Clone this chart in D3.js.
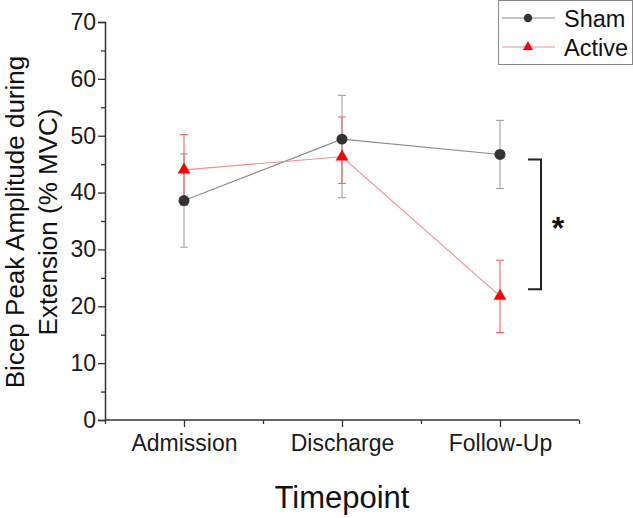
<!DOCTYPE html>
<html>
<head>
<meta charset="utf-8">
<script src="https://cdn.jsdelivr.net/npm/d3@7"></script>
<style>
html,body{margin:0;padding:0;background:#fff;}
svg{display:block;}
</style>
</head>
<body>
<svg id="chart" width="633" height="518"></svg>
<script>
const categories = ["Admission", "Discharge", "Follow-Up"];
const shamValues = [38.6, 49.4, 46.7];
const shamErrUp = [8.2, 7.7, 6.0];
const shamErrDown = [8.2, 10.3, 6.0];
const activeValues = [44.0, 46.3, 21.8];
const activeErrUp = [6.2, 7.0, 6.3];
const activeErrDown = [6.2, 4.7, 6.4];
const yTicks = [0, 10, 20, 30, 40, 50, 60, 70];
const yMinorTicks = [5, 15, 25, 35, 45, 55, 65];
const bracketRange = [45.8, 23.0];

const FONT = "'Liberation Sans', Arial, sans-serif";
const svg = d3.select("#chart").attr("font-family", FONT);
const mLeft = 105, mRight = 579, mTop = 22, mBottom = 420;

const x = d3.scaleLinear().domain([0.5, 3.5]).range([mLeft, mRight]);
const y = d3.scaleLinear().domain([0, 70]).range([mBottom, mTop]);
const axisColor = "#333";

// Y axis
const yAxis = d3.axisLeft(y).tickValues(yTicks).tickSize(7).tickPadding(2).tickFormat(d3.format("d"));
const gy = svg.append("g").attr("transform", `translate(${mLeft},0)`).call(yAxis)
  .attr("font-family", FONT).attr("font-size", 23);
gy.select(".domain").attr("stroke", axisColor).attr("stroke-width", 1.5);
gy.selectAll(".tick line").attr("stroke", axisColor).attr("stroke-width", 1.3);
gy.selectAll(".tick text").attr("fill", "#1a1a1a");
const gyMinor = svg.append("g").attr("transform", `translate(${mLeft},0)`)
  .call(d3.axisLeft(y).tickValues(yMinorTicks).tickSize(4).tickFormat(""));
gyMinor.select(".domain").remove();
gyMinor.selectAll(".tick line").attr("stroke", axisColor).attr("stroke-width", 1.3);

// X axis
const xAxis = d3.axisBottom(x).tickValues([1, 2, 3]).tickSize(7).tickPadding(8)
  .tickFormat((d) => categories[d - 1]);
const gx = svg.append("g").attr("transform", `translate(0,${mBottom})`).call(xAxis)
  .attr("font-family", FONT).attr("font-size", 23);
gx.select(".domain").attr("stroke", axisColor).attr("stroke-width", 1.5).attr("d", `M${mLeft},0H${mRight}`);
gx.selectAll(".tick line").attr("stroke", axisColor).attr("stroke-width", 1.3);
gx.selectAll(".tick text").attr("fill", "#1a1a1a");
const gxMinor = svg.append("g").attr("transform", `translate(0,${mBottom})`)
  .call(d3.axisBottom(x).tickValues([0.5, 1.5, 2.5, 3.5]).tickSize(4).tickFormat(""));
gxMinor.select(".domain").remove();
gxMinor.selectAll(".tick line").attr("stroke", axisColor).attr("stroke-width", 1.3);

// Axis titles
svg.append("text").attr("x", x(2)).attr("y", 508).attr("text-anchor", "middle")
  .attr("font-size", 31).attr("fill", "#111").text("Timepoint");
const yl = svg.append("text").attr("transform", `translate(0,222) rotate(-90)`)
  .attr("text-anchor", "middle").attr("font-size", 26).attr("fill", "#111");
yl.append("tspan").attr("x", 0).attr("y", 24).text("Bicep Peak Amplitude during");
yl.append("tspan").attr("x", 0).attr("y", 57).text("Extension (% MVC)");

const idx = categories.map((c, i) => i + 1);
const series = [
  {name: "Sham", vals: shamValues, up: shamErrUp, down: shamErrDown, line: "#8a8a8a", err: "#a0a0a0", mark: "#333", shape: d3.symbolCircle, size: 95, lsize: 55},
  {name: "Active", vals: activeValues, up: activeErrUp, down: activeErrDown, line: "#f09090", err: "#f06868", mark: "#ff0000", shape: d3.symbolTriangle, size: 70, lsize: 45}
];

const lineGen = d3.line().x((d) => x(d[0])).y((d) => y(d[1]));

// error bars
series.forEach((s) => {
  const g = svg.append("g");
  idx.forEach((xi, i) => {
    const v = s.vals[i], hi = v + s.up[i], lo = v - s.down[i];
    g.append("line").attr("x1", x(xi)).attr("x2", x(xi)).attr("y1", y(hi)).attr("y2", y(lo))
      .attr("stroke", s.err).attr("stroke-width", 1.1);
    [hi, lo].forEach((c) => g.append("line").attr("x1", x(xi) - 4).attr("x2", x(xi) + 4)
      .attr("y1", y(c)).attr("y2", y(c)).attr("stroke", s.err).attr("stroke-width", 1.1));
  });
});
// lines
series.forEach((s) => {
  svg.append("path").datum(idx.map((xi, i) => [xi, s.vals[i]])).attr("d", lineGen)
    .attr("fill", "none").attr("stroke", s.line).attr("stroke-width", 1.1);
});
// markers
series.forEach((s) => {
  svg.append("g").selectAll("path").data(idx.map((xi, i) => [xi, s.vals[i]])).join("path")
    .attr("d", d3.symbol().type(s.shape).size(s.size))
    .attr("transform", (d) => `translate(${x(d[0])},${y(d[1])})`)
    .attr("fill", s.mark);
});

// significance bracket
const bx = 541, bxs = 528;
svg.append("path")
  .attr("d", `M${bxs},${y(bracketRange[0])}H${bx}V${y(bracketRange[1])}H${bxs}`)
  .attr("fill", "none").attr("stroke", "#222").attr("stroke-width", 2);
svg.append("text").attr("x", 558).attr("y", y((bracketRange[0] + bracketRange[1]) / 2) + 15)
  .attr("text-anchor", "middle").attr("font-size", 32).attr("font-weight", "bold").attr("fill", "#111").text("*");

// legend
const lg = svg.append("g");
lg.append("rect").attr("x", 498.5).attr("y", 0.5).attr("width", 134).attr("height", 64)
  .attr("fill", "#fff").attr("stroke", "#888").attr("stroke-width", 1);
series.forEach((s, i) => {
  const ly = 18 + i * 29;
  lg.append("line").attr("x1", 502).attr("x2", 555).attr("y1", ly).attr("y2", ly)
    .attr("stroke", s.line).attr("stroke-width", 1.1);
  lg.append("path").attr("d", d3.symbol().type(s.shape).size(s.lsize))
    .attr("transform", `translate(528,${ly})`).attr("fill", s.mark);
  lg.append("text").attr("x", 564).attr("y", ly + 9).attr("font-size", 23.5).attr("fill", "#111").text(s.name);
});
</script>
</body>
</html>
